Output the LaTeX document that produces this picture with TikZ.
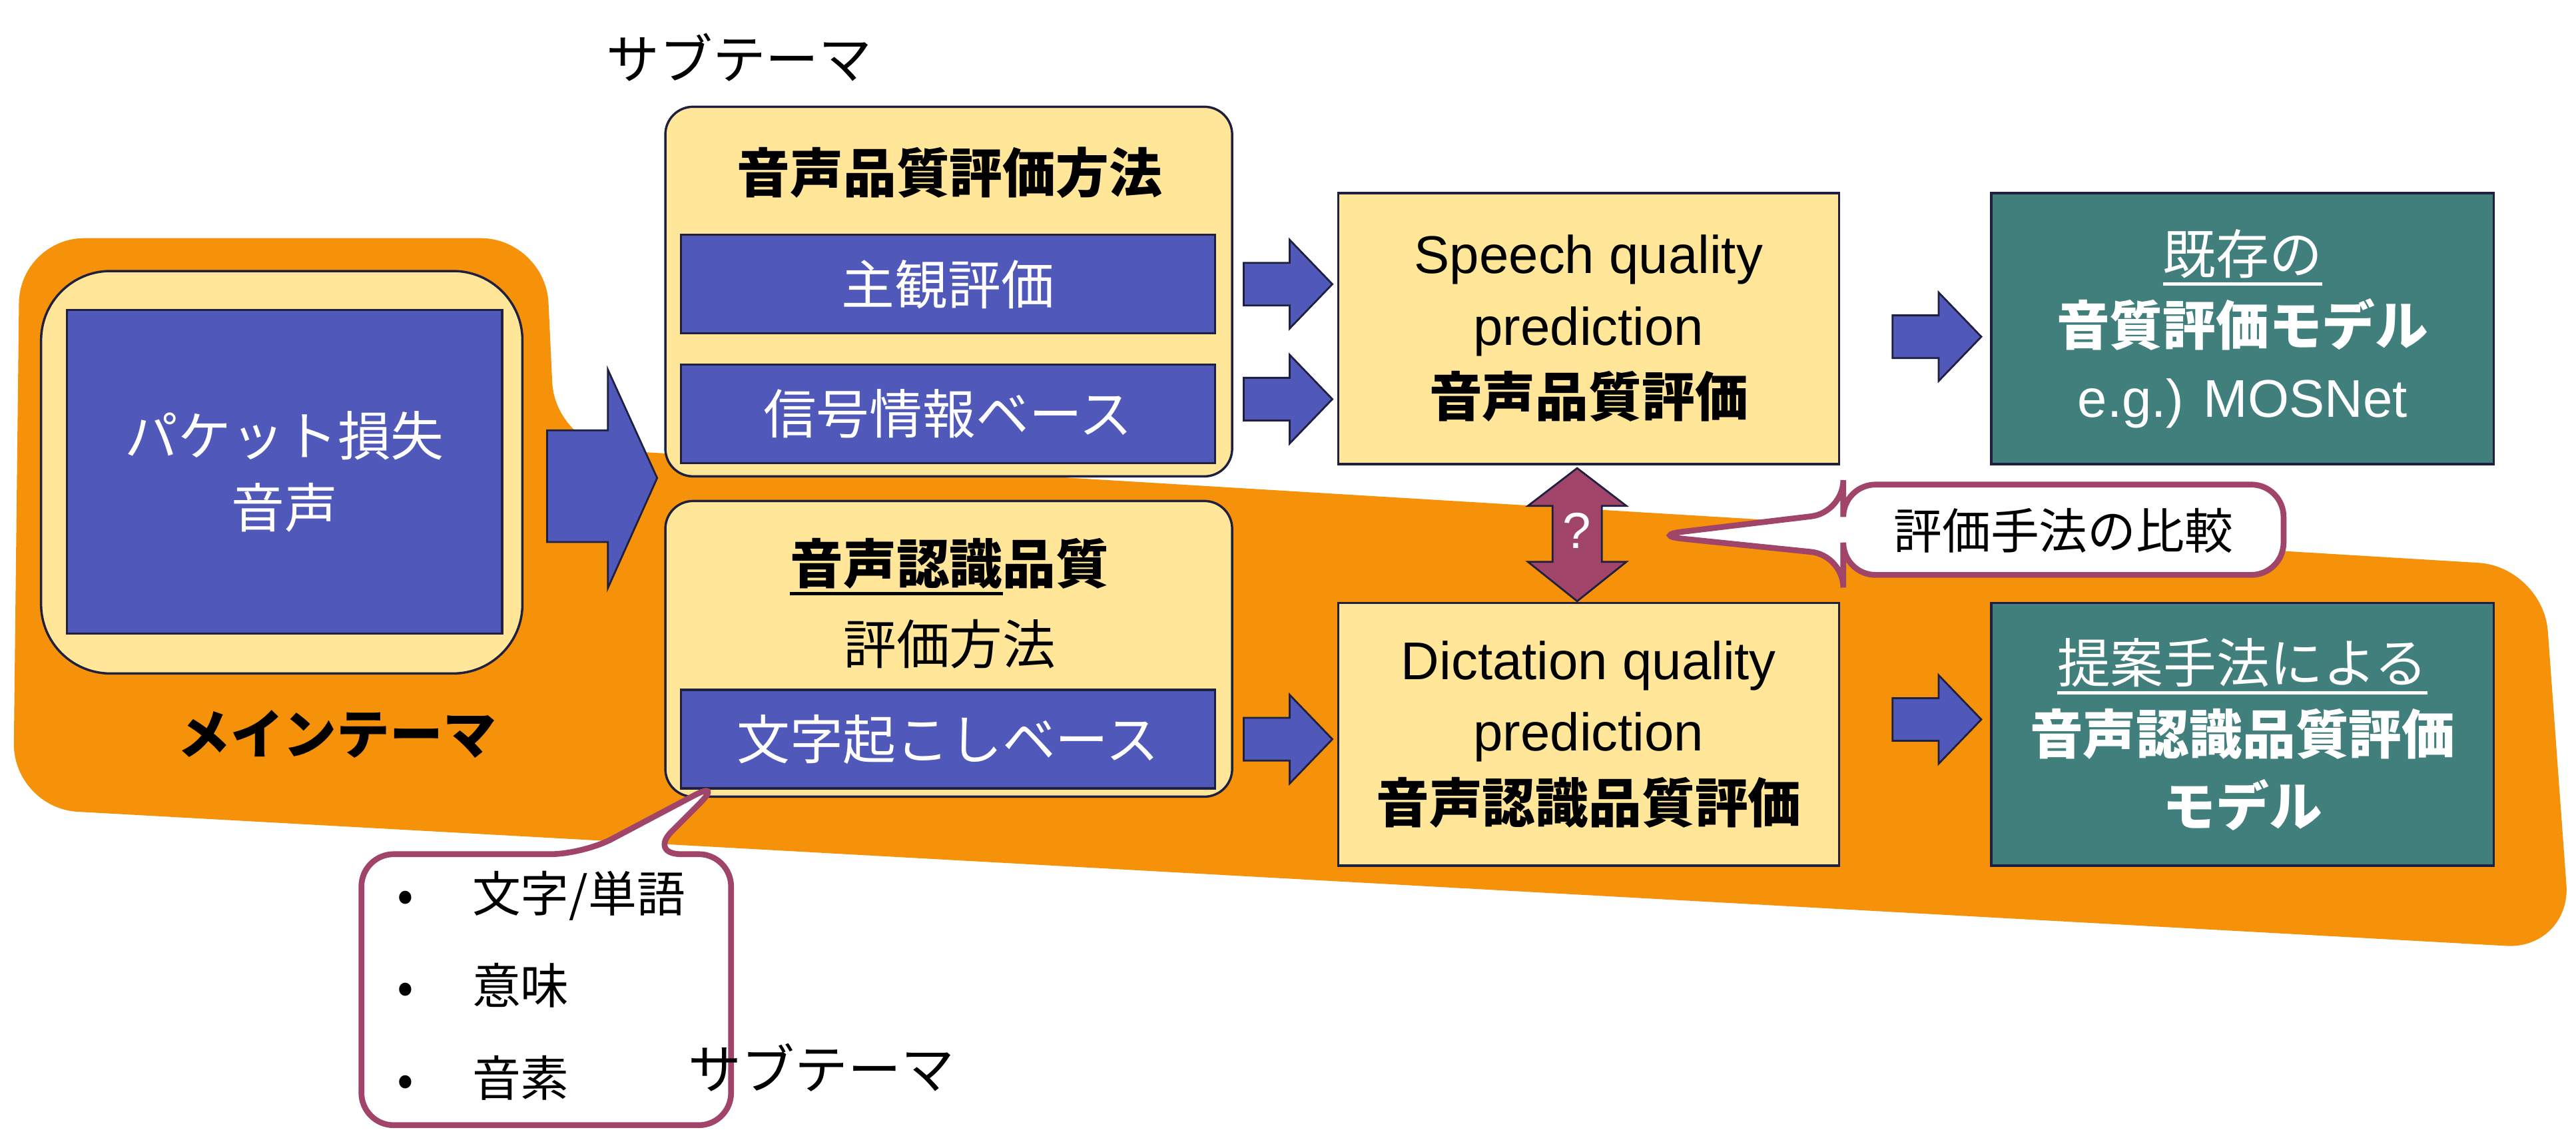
\documentclass[tikz,border=0pt]{standalone}
\usepackage{fontspec}
\setmainfont{Liberation Sans}
\newfontfamily\jp{Noto Sans CJK JP}
\usetikzlibrary{shapes.arrows}
\definecolor{yel}{HTML}{FFE699}
\definecolor{blu}{HTML}{5059BA}
\definecolor{tea}{HTML}{417F7C}
\definecolor{ora}{HTML}{F5920A}
\definecolor{pur}{HTML}{A0446A}
\definecolor{dk}{HTML}{1F2040}
\newcommand{\ul}[1]{\setbox0=\hbox{#1}\rlap{\rule[-0.22em]{\wd0}{0.06em}}\box0}
\begin{document}
\begin{tikzpicture}[x=0.025cm,y=-0.025cm,
  base/.style={font=\fontsize{23}{31}\selectfont,align=center},
  ybox/.style={fill=yel,draw=dk,line width=1pt,rounded corners=12pt},
  yrect/.style={base,fill=yel,draw=dk,line width=1pt},
  bbox/.style={base,fill=blu,draw=dk,line width=1pt,text=white},
  tbox/.style={base,fill=tea,draw=dk,line width=1pt,text=white},
  barr/.style={fill=blu,draw=dk,line width=0.8pt},
  call/.style={fill=white,draw=pur,line width=2.5pt,rounded corners=14pt}]
\useasboundingbox (0,0) rectangle (1568,689);
% orange band
\fill[ora,rounded corners=28pt] (8,492) -- (12,145) -- (332,145) -- (338,272) -- (1548,345) -- (1565,578) -- cycle;
% left node
\draw[fill=yel,draw=dk,line width=1pt,rounded corners=30pt] (25,165) rectangle (318,410);
\node[bbox,minimum width=265*0.025cm,minimum height=197*0.025cm,anchor=north west] (pk) at (40,188) {\jp パケット損失\\\jp 音声};
\node[base] (mt) at (205,447) {\jp\bfseries メインテーマ};
% big arrow
\draw[barr] (333,262) -- (370,262) -- (370,225) -- (400,291) -- (370,358) -- (370,330) -- (333,330) -- cycle;
\node[base] (st1) at (450,35) {\jp サブテーマ};
% box1
\draw[ybox] (405,65) rectangle (750,290);
\node[base] (t1) at (578,105) {\jp\bfseries 音声品質評価方法};
\node[bbox,minimum width=325*0.025cm,minimum height=60*0.025cm] (s1) at (577,173) {\jp 主観評価};
\node[bbox,minimum width=325*0.025cm,minimum height=60*0.025cm] (s2) at (577,252) {\jp 信号情報ベース};
% box2
\draw[ybox] (405,305) rectangle (750,485);
\node[base] (t2) at (578,345) {\ul{\jp\bfseries 音声認識}{\jp\bfseries 品質}};
\node[base] (t3) at (578,392) {\jp 評価方法};
\node[bbox,minimum width=325*0.025cm,minimum height=60*0.025cm] (s3) at (577,450) {\jp 文字起こしベース};
% small arrows
\foreach \y in {173,243,450}{
 \draw[barr] (757,\y-13) -- (785,\y-13) -- (785,\y-27) -- (811,\y) -- (785,\y+27) -- (785,\y+13) -- (757,\y+13) -- cycle;}
\foreach \y in {205,438}{
 \draw[barr] (1152,\y-13) -- (1180,\y-13) -- (1180,\y-27) -- (1206,\y) -- (1180,\y+27) -- (1180,\y+13) -- (1152,\y+13) -- cycle;}
% prediction boxes
\node[yrect,minimum width=305*0.025cm,minimum height=165*0.025cm] (sp) at (967,200) {Speech quality\\prediction\\{\jp\bfseries 音声品質評価}};
\node[yrect,minimum width=305*0.025cm,minimum height=160*0.025cm] (dp) at (967,447) {Dictation quality\\prediction\\{\jp\bfseries 音声認識品質評価}};
\node[tbox,minimum width=306*0.025cm,minimum height=165*0.025cm] (m1) at (1365,200) {\ul{\jp 既存の}\\{\jp\bfseries 音質評価モデル}\\e.g.) MOSNet};
\node[tbox,minimum width=306*0.025cm,minimum height=160*0.025cm] (m2) at (1365,447) {\ul{\jp 提案手法による}\\{\jp\bfseries 音声認識品質評価}\\{\jp\bfseries モデル}};
% double arrow
\draw[fill=pur,draw=dk,line width=0.8pt] (960,285) -- (990,308) -- (975,308) -- (975,342) -- (990,342) -- (960,366) -- (930,342) -- (945,342) -- (945,308) -- (930,308) -- cycle;
\node[base,text=white,font=\fontsize{22}{26}\selectfont] (q) at (960,323) {?};
% callout 1
\draw[call] (1122,295) -- (1390,295) -- (1390,350) -- (1122,350) -- (1122,338) -- (1005,326) -- (1122,312) -- cycle;
\node[base,font=\fontsize{21}{26}\selectfont\jp] (cmp) at (1256,323) {評価手法の比較};
% callout 2
\draw[call] (220,520) -- (355,520) -- (440,475) -- (395,520) -- (445,520) -- (445,685) -- (220,685) -- cycle;
\node[base,align=left,anchor=west,font=\fontsize{21}{40}\selectfont\jp] (lst) at (237,600) {•\hspace{1.2em}文字/単語\\•\hspace{1.2em}意味\\•\hspace{1.2em}音素};
\node[base] (st2) at (500,650) {\jp サブテーマ};
\end{tikzpicture}
\end{document}
